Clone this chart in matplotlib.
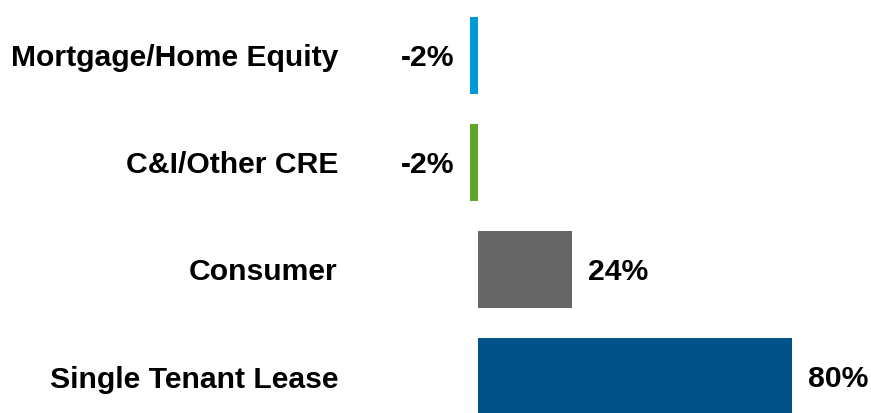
import matplotlib
matplotlib.use("Agg")
import matplotlib.pyplot as plt

categories = ["Mortgage/Home Equity", "C&I/Other CRE", "Consumer", "Single Tenant Lease"]
values = [-2, -2, 24, 80]
value_labels = ["-2%", "-2%", "24%", "80%"]
colors = ["#0099d8", "#5ea72c", "#666666", "#005288"]

plt.rcParams["font.family"] = ["Liberation Sans", "DejaVu Sans"]
plt.rcParams["font.weight"] = "bold"

W, H = 871, 413
fig = plt.figure(figsize=(W / 100, H / 100), dpi=100)

# axes in pixel terms: zero line at x=478, ~3.93 px per percent
zero_px = 478
px_per = 3.93
ax_left = 460
ax = fig.add_axes([ax_left / W, 0, (W - ax_left) / W, 1])
ax.set_xlim((ax_left - zero_px) / px_per, (W - zero_px) / px_per)

pitch = 107
first_center = 55.5
ax.set_ylim((H - first_center) / pitch, -first_center / pitch)

y = list(range(len(categories)))
ax.barh(y, values, height=0.72, color=colors)

fs = 21.7
for yi, v, lab in zip(y, values, value_labels):
    if v < 0:
        ax.annotate(lab, (v, yi), xytext=(-11.5, -1.5), textcoords="offset points",
                    ha="right", va="center", fontsize=fs, fontweight="bold")
    else:
        ax.annotate(lab, (v, yi), xytext=(11, -1.5), textcoords="offset points",
                    ha="left", va="center", fontsize=fs, fontweight="bold")

ax.set_yticks(y)
ax.set_yticklabels(categories, fontsize=fs, fontweight="bold")
ax.tick_params(axis="y", length=0, pad=(ax_left - 338) * 0.72)
ax.set_xticks([])
for s in ax.spines.values():
    s.set_visible(False)

fig.savefig("out.png", dpi=100)
